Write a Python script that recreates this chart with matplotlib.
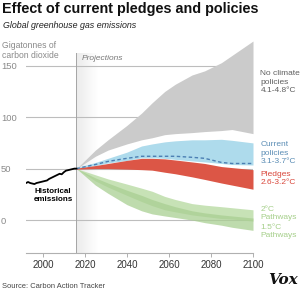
import matplotlib.pyplot as plt
import numpy as np
from matplotlib.colors import LinearSegmentedColormap

plt.rcParams['font.family'] = ['Liberation Sans', 'DejaVu Sans']

# historical emissions (GtCO2)
hist_years = [1992, 1993, 1994, 1995, 1996, 1997, 1998, 1999, 2000, 2001, 2002, 2003, 2004,
              2005, 2006, 2007, 2008, 2009, 2010, 2011, 2012, 2013, 2014, 2015, 2016]
hist_vals = [36, 37, 36, 35.5, 35, 36, 36.5, 37, 37.5, 38, 38.5, 40, 41,
             42, 43, 44, 45, 44.5, 46.5, 48, 48.5, 49, 49.5, 50, 50]

# projections
proj_years = [2016, 2025, 2031, 2040, 2047, 2052, 2058, 2063, 2071, 2077, 2085, 2090, 2100]
noclim_hi = [50, 68, 78, 92, 104, 114, 125, 132, 141, 145, 153, 160, 174]
noclim_lo = [50, 62, 68, 74, 78, 80, 83, 84, 85, 86, 87, 88, 84]
current_hi = [51, 56, 60, 66, 72, 74, 76, 77, 78, 78, 78.5, 77.5, 75]
current_lo = [50, 53, 55.5, 58, 60.5, 60.5, 60, 59, 57.5, 56.5, 55, 54, 53.5]
current_mid = [50, 54, 57, 60, 62, 62, 62, 62, 61, 60, 56, 55, 55]
pledge_hi = [50.5, 53, 55, 58, 60, 60, 59.5, 58.4, 56.5, 55, 52, 51, 49]
pledge_lo = [49.5, 50, 50, 49.5, 49, 48.5, 46.5, 45, 42, 39.5, 36, 34, 30]
p2_hi = [50, 44, 40, 35, 31, 28, 23, 20, 16, 14.5, 13, 12, 10]
p2_lo = [50, 38, 32, 24, 18, 14, 10, 8, 5, 3.5, 1.5, 1, -1]
p15_hi = [50, 41, 36, 29, 24, 20, 16, 13, 9, 7, 5, 4, 2]
p15_lo = [50, 34, 26, 15, 9, 6, 4, 2.5, 0, -2.5, -5, -7, -10]

yticks = [0, 50, 100, 150]
xticks = [2000, 2020, 2040, 2060, 2080, 2100]

fig = plt.figure(figsize=(3.0, 2.9), dpi=100)
ax = fig.add_axes([26 / 300, 37 / 290, 227 / 300, 213 / 290])
ax.set_xlim(1992, 2100)
ax.set_ylim(-32, 175)

# shaded band right of the projection line
cm = LinearSegmentedColormap.from_list('fade', ['#ebebeb', '#ffffff'])
ax.imshow(np.linspace(0, 1, 100).reshape(1, -1), cmap=cm, aspect='auto',
          extent=[2016, 2026, -32, 162], zorder=0)

for yv in yticks:
    ax.axhline(yv, color='#bdbdbd', lw=0.8, zorder=1)
ax.plot([2016, 2016], [-32, 162], color='#a5a5a5', lw=0.7, zorder=1)

ax.fill_between(proj_years, noclim_lo, noclim_hi, color='#cbcbcb', lw=0, zorder=2)
ax.fill_between(proj_years, current_lo, current_hi, color='#aedbec', lw=0, zorder=3)
ax.fill_between(proj_years, pledge_lo, pledge_hi, color='#dc5646', lw=0, zorder=4)
ax.plot(proj_years, current_mid, color='#4b7fb3', lw=1.0, ls=(0, (2.5, 1.8)), zorder=5)
ax.fill_between(proj_years, p2_lo, p2_hi, color='#b9dba4', alpha=0.8, lw=0, zorder=3)
ax.fill_between(proj_years, p15_lo, p15_hi, color='#a9cf92', alpha=0.75, lw=0, zorder=3)

ax.plot(hist_years, hist_vals, color='black', lw=1.3, zorder=6)

for s in ['left', 'top', 'right']:
    ax.spines[s].set_visible(False)
ax.spines['bottom'].set_color('#b0b0b0')
ax.spines['bottom'].set_linewidth(0.8)

ax.set_xticks(xticks)
ax.set_xticklabels([str(x) for x in xticks], fontsize=7, color='#333333')
ax.tick_params(axis='x', length=3, width=0.7, color='#b0b0b0', pad=2)
ax.set_yticks(yticks)
ax.set_yticklabels([str(y) for y in yticks], fontsize=6.8, color='#8a8a8a')
ax.tick_params(axis='y', length=0, pad=18)
for lab in ax.get_yticklabels():
    lab.set_horizontalalignment('left')

# annotations
ax.text(2018.3, 157, 'Projections', fontsize=6, style='italic', color='#777777', va='center')
ax.text(2004.9, 24, 'Historical\nemissions', fontsize=5.8, fontweight='bold', ha='center',
        va='center', linespacing=1.05, zorder=7)

lx = 2103.5
ax.text(lx, 145.5, 'No climate\npolicies\n4.1-4.8°C', fontsize=6, color='#5f5f5f', va='top',
        linespacing=1.25, clip_on=False)
ax.text(lx, 76.5, 'Current\npolicies\n3.1-3.7°C', fontsize=6, color='#5b8db5', va='top',
        linespacing=1.25, clip_on=False)
ax.text(lx, 48, 'Pledges\n2.6-3.2°C', fontsize=6, color='#d9473b', va='top',
        linespacing=1.25, clip_on=False)
ax.text(lx, 14, '2°C\nPathways', fontsize=6, color='#a5cf8a', va='top',
        linespacing=1.25, clip_on=False)
ax.text(lx, -3.5, '1.5°C\nPathways', fontsize=6, color='#a5cf8a', va='top',
        linespacing=1.25, clip_on=False)

fig.text(2 / 300, 1 - 9 / 290, 'Effect of current pledges and policies', fontsize=10.4,
         fontweight='bold', va='center', color='#111111')
fig.text(3 / 300, 1 - 25 / 290, 'Global greenhouse gas emissions', fontsize=6.4,
         style='italic', va='center', color='#222222')
fig.text(2 / 300, 1 - 50.5 / 290, 'Gigatonnes of\ncarbon dioxide', fontsize=6.2,
         va='center', color='#8a8a8a', linespacing=1.1)
fig.text(2 / 300, 1 - 286 / 290, 'Source: Carbon Action Tracker', fontsize=5.4,
         va='center', color='#444444')
fig.text(298 / 300, 1 - 280 / 290, 'Vox', fontsize=11, family='DejaVu Serif',
         fontweight='bold', style='italic', ha='right', va='center', color='#111111')

fig.savefig('out.png', dpi=100)
